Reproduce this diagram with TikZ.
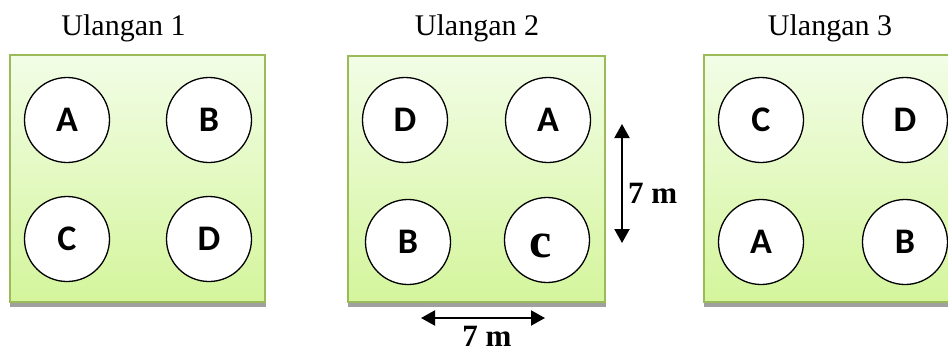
\documentclass[tikz,border=0pt]{standalone}
\usepackage{fontspec}
\setmainfont{Liberation Serif}
\newfontfamily\calfont{Carlito}
\usetikzlibrary{arrows.meta}
\definecolor{boxtop}{HTML}{F2FDE6}
\definecolor{boxbot}{HTML}{D4F59C}
\definecolor{boxline}{HTML}{9BBB59}
\definecolor{shadowgray}{HTML}{A0A0A0}
\tikzset{
  plot/.style={draw=boxline, line width=1.5pt, top color=boxtop, bottom color=boxbot},
  tree/.style={circle, draw=black, line width=1.3pt, fill=white, minimum size=85pt, inner sep=0pt, font=\calfont\bfseries\fontsize{36}{36}\selectfont},
  title/.style={anchor=base, font=\fontsize{30}{30}\selectfont, inner sep=0pt},
  dim/.style={font=\bfseries\fontsize{31}{31}\selectfont, inner sep=0pt},
  dimarrow/.style={line width=2pt, {Triangle[length=14pt,width=15pt]}-{Triangle[length=14pt,width=15pt]}}
}
\begin{document}
\begin{tikzpicture}[x=1pt,y=-1pt]
\useasboundingbox (0,0) rectangle (948,354);
\clip (0,0) rectangle (948,354);
% titles
\node[title] (t1) at (123.5,35) {Ulangan 1};
\node[title] (t2) at (477,35) {Ulangan 2};
\node[title] (t3) at (830,35) {Ulangan 3};
% plots with shadows
\fill[shadowgray] (10,300) rectangle (266,307);
\fill[shadowgray] (348,300) rectangle (606,307);
\fill[shadowgray] (704,300) rectangle (960,307);
\path[plot] (10,55) rectangle (265,302);
\path[plot] (348,56) rectangle (605,302);
\path[plot] (704,55) rectangle (960,302);
% Ulangan 1
\node[tree] (a1) at (67,120) {A};
\node[tree] (b1) at (209,120) {B};
\node[tree] (c1) at (67,239) {C};
\node[tree] (d1) at (209,239) {D};
% Ulangan 2
\node[tree] (d2) at (405,120) {D};
\node[tree] (a2) at (548,120) {A};
\node[tree] (b2) at (408,242) {B};
\node[tree] (c2) at (547,240) {};
\node[font=\bfseries\fontsize{50}{50}\selectfont, inner sep=0pt, anchor=base] (c2t) at (541,257) {c};
% Ulangan 3
\node[tree] (c3) at (761,120) {C};
\node[tree] (d3) at (905,120) {D};
\node[tree] (a3) at (761,242) {A};
\node[tree] (b3) at (905,242) {B};
% dimensions
\coordinate (vtop) at (622,124);
\coordinate (vbot) at (622,243);
\draw[dimarrow] (vtop) -- (vbot);
\node[dim, anchor=base west] (vlab) at (628,203) {7 m};
\coordinate (hleft) at (421,318);
\coordinate (hright) at (545,318);
\draw[dimarrow] (hleft) -- (hright);
\node[dim, anchor=base] (hlab) at (487,346) {7 m};
\end{tikzpicture}
\end{document}
